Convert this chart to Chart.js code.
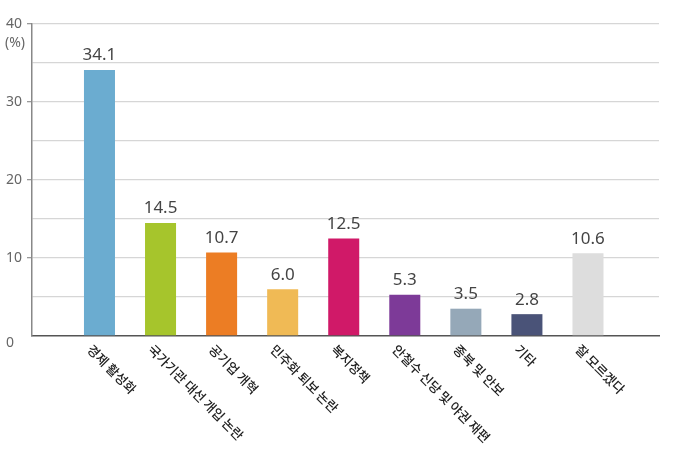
<!DOCTYPE html>
<html>
<head>
<meta charset="utf-8">
<script src="https://cdn.jsdelivr.net/npm/chart.js@4"></script>
<style>
  html, body { margin: 0; padding: 0; background: #fff; }
  #wrap { width: 674px; height: 459px; position: relative; }
</style>
</head>
<body>
<div id="wrap"><canvas id="issueChart"></canvas></div>
<script>
const categories = [
    "경제 활성화", "국가기관 대선 개입 논란", "공기업 개혁", "민주화 퇴보 논란",
    "복지정책", "안철수 신당 및 야권 재편", "종북 및 안보", "기타", "잘 모르겠다"
];
const percents = [34.1, 14.5, 10.7, 6.0, 12.5, 5.3, 3.5, 2.8, 10.6];
const barColors = [
    "#6bacd0", "#a6c52c", "#ec7d24", "#f0ba55", "#d01968",
    "#7d3a98", "#95a8b8", "#4a5378", "#dddddd"
];
const yTicks = [0, 10, 20, 30, 40];

// draws value above each bar, the rotated category names, the zero label and the (%) unit
const labelPlugin = {
    id: "labelPlugin",
    afterDatasetsDraw(chart) {
        const ctx = chart.ctx;
        const meta = chart.getDatasetMeta(0);
        ctx.save();
        ctx.fillStyle = "#444";
        ctx.font = "17px 'Noto Sans'";
        ctx.textAlign = "center";
        ctx.textBaseline = "bottom";
        meta.data.forEach((bar, i) => {
            ctx.fillText(percents[i].toFixed(1), bar.x, bar.y - 6);
        });
        ctx.restore();
    },
    afterDraw(chart) {
        const ctx = chart.ctx;
        const xs = chart.scales.x;
        const ys = chart.scales.y;
        const bottom = chart.chartArea.bottom;
        ctx.save();
        ctx.fillStyle = "#222";
        ctx.font = "500 13px 'Noto Sans CJK KR'";
        ctx.textAlign = "left";
        ctx.textBaseline = "middle";
        categories.forEach((name, i) => {
            const x = xs.getPixelForValue(i);
            ctx.save();
            ctx.translate(x - 10, bottom + 11);
            ctx.rotate(Math.PI / 4);
            ctx.fillText(name, 0, 0);
            ctx.restore();
        });
        ctx.fillStyle = "#666";
        ctx.font = "14px 'Noto Sans'";
        ctx.fillText("(%)", 5, 43);
        // zero sits a little below the baseline in the original
        ctx.fillText("0", 6, ys.getPixelForValue(0) + 7);
        ctx.restore();
    }
};

const ctx = document.getElementById("issueChart").getContext("2d");
const issueChart = new Chart(ctx, {
    type: "bar",
    data: {
        datasets: [{
            data: percents.map((v, i) => ({ x: i, y: v })),
            backgroundColor: barColors,
            borderWidth: 0,
            categoryPercentage: 1,
            barPercentage: 0.508
        }]
    },
    options: {
        responsive: true,
        maintainAspectRatio: false,
        animation: false,
        layout: { padding: { top: 24, right: 15, bottom: 123, left: 6 } },
        plugins: { legend: { display: false }, tooltip: { enabled: false } },
        scales: {
            x: {
                type: "linear",
                offset: false,
                min: -1.105,
                max: 9.163,
                grid: { display: false },
                ticks: { display: false },
                border: { display: true, color: "#555", width: 1.5 },
                afterFit(scale) { scale.height = 0; }
            },
            y: {
                min: 0,
                max: 40,
                ticks: {
                    stepSize: 5,
                    crossAlign: "far",
                    color: "#666",
                    font: { family: "'Noto Sans'", size: 14 },
                    callback: (v) => yTicks.includes(v) && v !== 0 ? String(v) : ""
                },
                grid: {
                    color: (c) => c.tick && c.tick.value === 0 ? "rgba(0,0,0,0)" : "#d6d6d6",
                    lineWidth: 1.3,
                    tickLength: 5,
                    tickColor: (c) => c.tick && yTicks.includes(c.tick.value) && c.tick.value !== 0 ? "#999" : "rgba(0,0,0,0)"
                },
                border: { display: true, color: "#888", width: 1.5 },
                afterFit(scale) { scale.width = 26; }
            }
        }
    },
    plugins: [labelPlugin]
});
</script>
</body>
</html>
